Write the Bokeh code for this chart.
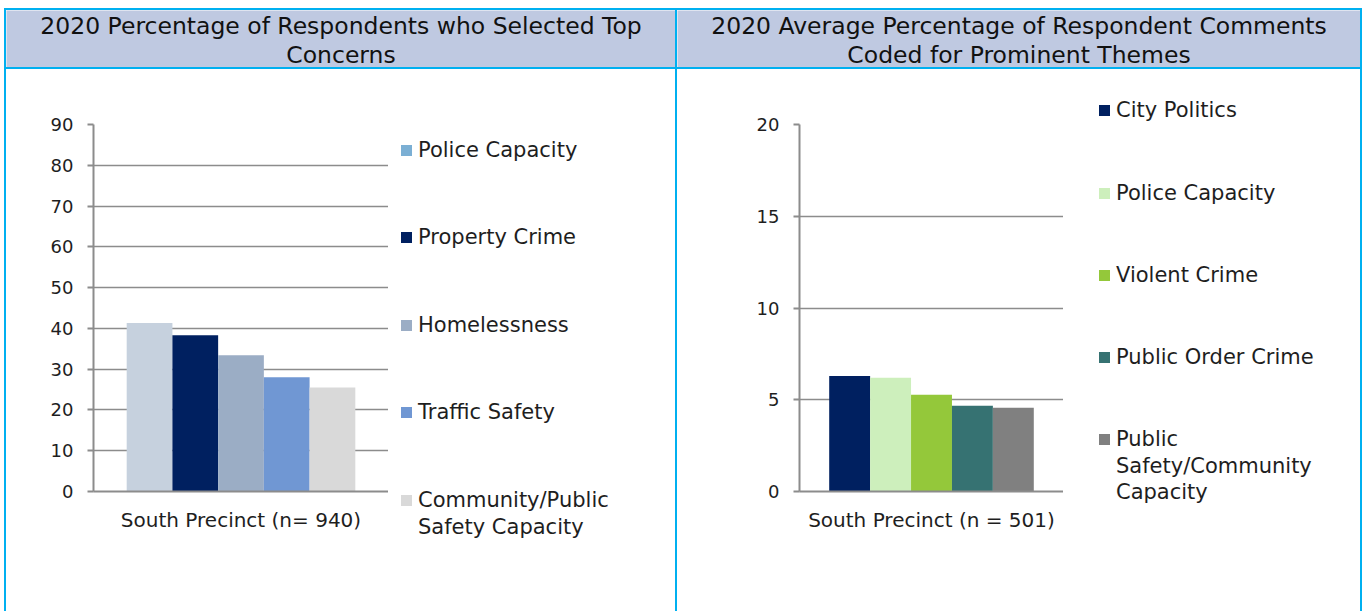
from bokeh.plotting import figure
from bokeh.layouts import row, column
from bokeh.models import FactorRange, Range1d, FixedTicker, ColumnDataSource, Div, Spacer
from bokeh.transform import dodge
from bokeh.core.properties import value
from bokeh.embed import file_html
from bokeh.resources import INLINE
from html import escape

# ---------------- data ----------------
left_title = ["2020 Percentage of Respondents who Selected Top", "Concerns"]
left_category = "South Precinct (n= 940)"
left_series = ["Police Capacity", "Property Crime", "Homelessness",
               "Traffic Safety", "Community/Public\nSafety Capacity"]
left_values = [41.3, 38.3, 33.4, 28.0, 25.5]
left_bar_colors = ["#C6D1DE", "#002060", "#9BADC5", "#7097D3", "#D9D9D9"]
left_legend_colors = ["#7BAFD4", "#002060", "#9BADC5", "#7097D3", "#D9D9D9"]
left_yticks = [0, 10, 20, 30, 40, 50, 60, 70, 80, 90]

right_title = ["2020 Average Percentage of Respondent Comments", "Coded for Prominent Themes"]
right_category = "South Precinct (n = 501)"
right_series = ["City Politics", "Police Capacity", "Violent Crime",
                "Public Order Crime", "Public\nSafety/Community\nCapacity"]
right_values = [6.3, 6.2, 5.27, 4.67, 4.56]
right_bar_colors = ["#002060", "#CDEFBC", "#94C83A", "#367272", "#808080"]
right_legend_colors = right_bar_colors
right_yticks = [0, 5, 10, 15, 20]

# ---------------- style ----------------
FONT = "DejaVu Sans"
BORDER = "#00B0F0"
HEADER_BG = "#BFC9E1"
AXIS_GRAY = "#8C8C8C"
TEXT = "#1E1E1E"
BW = 2           # border width
HEADER_H = 57
BODY_H = 542
FRAME_TOP = 55
FRAME_H = 367
BAR_W = 0.155


def bar(w, h):
    return Div(text="", width=w, height=h, margin=0,
               styles={"background-color": BORDER})


def header(w, lines):
    p = figure(width=w, height=HEADER_H, x_range=Range1d(0, w), y_range=Range1d(HEADER_H, 0),
               output_backend="svg", toolbar_location=None,
               min_border=0, min_border_left=0, min_border_right=0,
               min_border_top=0, min_border_bottom=0)
    p.axis.visible = False
    p.grid.grid_line_color = None
    p.outline_line_color = None
    p.background_fill_color = HEADER_BG
    p.border_fill_color = HEADER_BG
    src = ColumnDataSource(dict(x=[w / 2] * len(lines),
                                y=[15 + 29 * k for k in range(len(lines))],
                                t=lines))
    p.text(x="x", y="y", text="t", source=src, text_align="center",
           text_baseline="middle", text_font=value(FONT), text_font_size="23.5px",
           text_color="#111111")
    return p


def chart(width, category, series, values, colors, yticks, frame_left):
    p = figure(width=width, height=BODY_H,
               x_range=FactorRange(factors=[category], range_padding=0),
               y_range=Range1d(0, yticks[-1]),
               output_backend="svg", toolbar_location=None,
               min_border_left=frame_left, min_border_right=0,
               min_border_top=FRAME_TOP,
               min_border_bottom=BODY_H - FRAME_TOP - FRAME_H)
    p.outline_line_color = None
    p.background_fill_color = "white"
    p.border_fill_color = "white"

    n = len(values)
    for i, (s, v, c) in enumerate(zip(series, values, colors)):
        src = ColumnDataSource(dict(cat=[category], v=[v], name=[s.replace("\n", " ")]))
        p.vbar(x=dodge("cat", (i - (n - 1) / 2) * BAR_W, range=p.x_range),
               top="v", width=BAR_W, source=src, fill_color=c, line_color=None)

    p.yaxis.ticker = FixedTicker(ticks=yticks)
    p.yaxis.major_tick_out = 6
    p.yaxis.major_tick_in = 0
    p.yaxis.minor_tick_line_color = None
    p.yaxis.axis_line_color = AXIS_GRAY
    p.yaxis.axis_line_width = 2
    p.yaxis.major_tick_line_color = AXIS_GRAY
    p.yaxis.major_tick_line_width = 2
    p.yaxis.major_label_text_font = FONT
    p.yaxis.major_label_text_font_size = "18px"
    p.yaxis.major_label_text_color = TEXT
    p.yaxis.major_label_standoff = 14

    p.xaxis.axis_line_color = AXIS_GRAY
    p.xaxis.axis_line_width = 2
    p.xaxis.major_tick_line_color = None
    p.xaxis.major_label_text_font = FONT
    p.xaxis.major_label_text_font_size = "20px"
    p.xaxis.major_label_text_color = TEXT
    p.xaxis.major_label_standoff = 10

    p.xgrid.grid_line_color = None
    p.ygrid.grid_line_color = AXIS_GRAY
    p.ygrid.grid_line_width = 1.5
    return p


def legend(w, series, colors, sw_left, txt_left, y0, step, line_step):
    parts = []
    for k, (s, c) in enumerate(zip(series, colors)):
        yc = y0 + step * k
        parts.append(
            f'<div style="position:absolute;left:{sw_left}px;top:{yc - 5.5:.1f}px;'
            f'width:11px;height:11px;background:{c};"></div>')
        for j, line in enumerate(s.split("\n")):
            parts.append(
                f'<div style="position:absolute;left:{txt_left}px;'
                f'top:{yc + line_step * j - 13.5:.1f}px;height:27px;line-height:27px;'
                f'white-space:nowrap;">{escape(line)}</div>')
    html = (f'<div style="position:relative;width:{w}px;height:{BODY_H}px;'
            f'font-family:\'{FONT}\';font-size:21px;color:{TEXT};">'
            + "".join(parts) + "</div>")
    return Div(text=html, width=w, height=BODY_H, margin=0)


LW, RW = 669, 683

left_body = row(
    chart(382, left_category, left_series, left_values, left_bar_colors, left_yticks, 87),
    legend(LW - 382, left_series, left_legend_colors, 13, 30, 81, 87.5, 27),
    spacing=0)
right_body = row(
    chart(386, right_category, right_series, right_values, right_bar_colors, right_yticks, 122),
    legend(RW - 386, right_series, right_legend_colors, 36, 53, 41.7, 82.3, 26.5),
    spacing=0)

left_panel = column(bar(LW, BW), header(LW, left_title), bar(LW, BW), left_body, spacing=0)
right_panel = column(bar(RW, BW), header(RW, right_title), bar(RW, BW), right_body, spacing=0)

VH = BW + HEADER_H + BW + BODY_H
root = column(
    Spacer(width=10, height=8, margin=0),
    row(Spacer(width=4, height=VH, margin=0), bar(BW, VH), left_panel, bar(BW, VH),
        right_panel, bar(BW, VH), spacing=0),
    spacing=0)

open("out.html", "w").write(file_html(root, INLINE))
